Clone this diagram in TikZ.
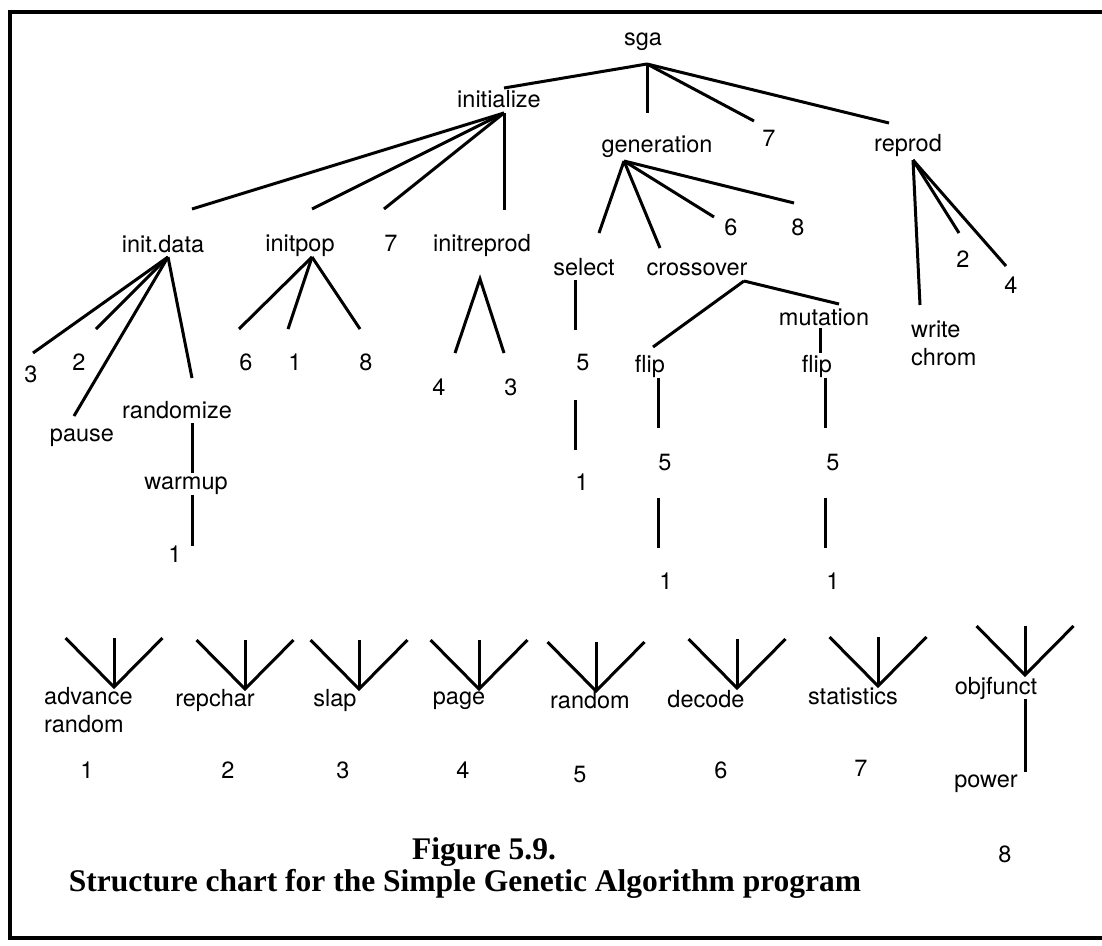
\documentclass[tikz,border=0pt]{standalone}
\usepackage{fontspec}
\setmainfont{TeX Gyre Heros}
\newfontfamily\figcapfont{Liberation Serif}
\newcommand\chartfont{\fontsize{23.5}{28.5}\selectfont}
\begin{document}
\begin{tikzpicture}[x=1pt,y=-1pt,
  lbl/.style={inner sep=0pt, anchor=base, font=\chartfont},
  lblw/.style={lbl, anchor=base west},
  link/.style={line width=3pt},
  frame/.style={line width=4.5pt},
  capt/.style={inner sep=0pt, anchor=base, font=\figcapfont\bfseries\fontsize{31.5}{36}\selectfont}]
\useasboundingbox (0,0) rectangle (1102,945);

% outer frame (right side runs off the page)
\draw[frame] (1102,12) -- (10,12) -- (10,938) -- (1102,938);

% ---------- module names ----------
\node[lbl] (sga) at (643,45) {sga};
\node[lbl] (initialize) at (499,107) {initialize};
\node[lbl] (generation) at (657,152) {generation};
\node[lbl] (sga7) at (769,146) {7};
\node[lbl] (reprod) at (908,151) {reprod};

\node[lbl] (initdata) at (163,252) {init.data};
\node[lbl] (initpop) at (300,251) {initpop};
\node[lbl] (init7) at (391,251) {7};
\node[lbl] (initreprod) at (482,251) {initreprod};

\node[lbl] (id3) at (31,382) {3};
\node[lbl] (id2) at (79,370) {2};
\node[lbl] (pause) at (82,441) {pause};
\node[lbl] (randomize) at (177,418) {randomize};
\node[lbl] (warmup) at (186,489) {warmup};
\node[lbl] (wu1) at (175,562) {1};

\node[lbl] (ip6) at (246,370) {6};
\node[lbl] (ip1) at (295,370) {1};
\node[lbl] (ip8) at (366,370) {8};
\node[lbl] (ir4) at (439,395) {4};
\node[lbl] (ir3) at (511,395) {3};

\node[lbl] (select) at (584,275) {select};
\node[lbl] (crossover) at (697,275) {crossover};
\node[lbl] (g6) at (731,235) {6};
\node[lbl] (g8) at (798,235) {8};
\node[lbl] (sel5) at (583,370) {5};
\node[lbl] (sel1) at (582,490) {1};

\node[lbl] (mutation) at (824,325) {mutation};
\node[lbl] (flipA) at (650,372) {flip};
\node[lbl] (flipB) at (817,372) {flip};
\node[lbl] (flipA5) at (665,470) {5};
\node[lbl] (flipB5) at (833,470) {5};
\node[lbl] (flipA1) at (666,589) {1};
\node[lbl] (flipB1) at (833,589) {1};

\node[lbl] (rp2) at (963,267) {2};
\node[lbl] (rp4) at (1011,293) {4};
\node[lblw] (writechrom) at (911,337) {\begin{tabular}[t]{@{}l@{}}write\\chrom\end{tabular}};

% ---------- tree connectors ----------
\coordinate (sga-j) at (647,64);
\coordinate (initialize-t) at (504,88);
\coordinate (generation-t) at (647,113);
\coordinate (sga7-t) at (754,121);
\coordinate (reprod-t) at (889,123);
\draw[link] (sga-j) -- (initialize-t);
\draw[link] (sga-j) -- (generation-t);
\draw[link] (sga-j) -- (sga7-t);
\draw[link] (sga-j) -- (reprod-t);

\coordinate (initialize-j) at (504,113);
\coordinate (initdata-t) at (192,209);
\coordinate (initpop-t) at (312,209);
\coordinate (init7-t) at (384,209);
\coordinate (initreprod-t) at (504,210);
\draw[link] (initialize-j) -- (initdata-t);
\draw[link] (initialize-j) -- (initpop-t);
\draw[link] (initialize-j) -- (init7-t);
\draw[link] (initialize-j) -- (initreprod-t);

\coordinate (initdata-j) at (168,257);
\coordinate (id3-t) at (33,353);
\coordinate (id2-t) at (96,329);
\coordinate (pause-t) at (74,416);
\coordinate (randomize-t) at (192,378);
\draw[link] (initdata-j) -- (id3-t);
\draw[link] (initdata-j) -- (id2-t);
\draw[link] (initdata-j) -- (pause-t);
\draw[link] (initdata-j) -- (randomize-t);

\coordinate (randomize-b) at (192,423);
\coordinate (warmup-t) at (192,473);
\coordinate (warmup-b) at (192,495);
\coordinate (wu1-t) at (192,546);
\draw[link] (randomize-b) -- (warmup-t);
\draw[link] (warmup-b) -- (wu1-t);

\coordinate (initpop-j) at (312,257);
\coordinate (ip6-t) at (239,329);
\coordinate (ip1-t) at (288,329);
\coordinate (ip8-t) at (360,329);
\draw[link] (initpop-j) -- (ip6-t);
\draw[link] (initpop-j) -- (ip1-t);
\draw[link] (initpop-j) -- (ip8-t);

\coordinate (initreprod-j) at (480,279);
\coordinate (ir4-t) at (455,353);
\coordinate (ir3-t) at (504,353);
\draw[link] (ir4-t) -- (initreprod-j) -- (ir3-t);

\coordinate (generation-j) at (624,161);
\coordinate (select-t) at (599,233);
\coordinate (crossover-t) at (660,248);
\coordinate (g6-t) at (714,217);
\coordinate (g8-t) at (794,203);
\draw[link] (generation-j) -- (select-t);
\draw[link] (generation-j) -- (crossover-t);
\draw[link] (generation-j) -- (g6-t);
\draw[link] (generation-j) -- (g8-t);

\coordinate (select-b) at (575,280);
\coordinate (sel5-t) at (575,330);
\coordinate (sel5-b) at (575,400);
\coordinate (sel1-t) at (575,450);
\draw[link] (select-b) -- (sel5-t);
\draw[link] (sel5-b) -- (sel1-t);

\coordinate (crossover-j) at (744,281);
\coordinate (flipA-t) at (653,347);
\coordinate (mutation-t) at (839,304);
\draw[link] (crossover-j) -- (flipA-t);
\draw[link] (crossover-j) -- (mutation-t);

\coordinate (mutation-b) at (820,328);
\coordinate (flipB-t) at (820,353);
\draw[link] (mutation-b) -- (flipB-t);

\coordinate (flipA-b) at (658,378);
\coordinate (flipA5-t) at (658,428);
\coordinate (flipA5-b) at (658,498);
\coordinate (flipA1-t) at (658,548);
\draw[link] (flipA-b) -- (flipA5-t);
\draw[link] (flipA5-b) -- (flipA1-t);

\coordinate (flipB-b) at (825,378);
\coordinate (flipB5-t) at (825,428);
\coordinate (flipB5-b) at (825,498);
\coordinate (flipB1-t) at (825,548);
\draw[link] (flipB-b) -- (flipB5-t);
\draw[link] (flipB5-b) -- (flipB1-t);

\coordinate (reprod-j) at (913,160);
\coordinate (writechrom-t) at (920,305);
\coordinate (rp2-t) at (959,233);
\coordinate (rp4-t) at (1006,266);
\draw[link] (reprod-j) -- (writechrom-t);
\draw[link] (reprod-j) -- (rp2-t);
\draw[link] (reprod-j) -- (rp4-t);

% ---------- library modules (three-pronged forks) ----------
\foreach \k/\cx/\ay in {1/114/687, 2/245/689, 3/359/689, 4/479/689,
                        5/596/691, 6/737/688, 7/878/686, 8/1025/675} {
  \coordinate (fk\k) at (\cx,\ay);
  \coordinate (fk\k-l) at (\cx-48.5,\ay-49);
  \coordinate (fk\k-m) at (\cx,\ay-49);
  \coordinate (fk\k-r) at (\cx+48.5,\ay-49);
  \draw[link] (fk\k-l) -- (fk\k) -- (fk\k-r);
  \draw[link] (fk\k-m) -- (fk\k);
}

\node[lblw] (advrandom) at (44,704) {\begin{tabular}[t]{@{}l@{}}advance\\random\end{tabular}};
\node[lbl] (repchar) at (215,706) {repchar};
\node[lbl] (slap) at (335,706) {slap};
\node[lbl] (page) at (459,704) {page};
\node[lbl] (random) at (590,708) {random};
\node[lbl] (decode) at (706,707) {decode};
\node[lbl] (statistics) at (853,704) {statistics};
\node[lbl] (objfunct) at (996,694) {objfunct};
\node[lbl] (power) at (986,787) {power};

\coordinate (objfunct-b) at (1025,699);
\coordinate (power-t) at (1025,772);
\draw[link] (objfunct-b) -- (power-t);

\node[lbl] (n1) at (87,778) {1};
\node[lbl] (n2) at (228,778) {2};
\node[lbl] (n3) at (343,778) {3};
\node[lbl] (n4) at (463,778) {4};
\node[lbl] (n5) at (580,782) {5};
\node[lbl] (n6) at (721,778) {6};
\node[lbl] (n7) at (861,776) {7};
\node[lbl] (n8) at (1005,862) {8};

% ---------- caption ----------
\node[capt] (figno) at (484,859) {Figure 5.9.};
\node[capt] (figtitle) at (465,891) {Structure chart for the Simple Genetic Algorithm program};
\end{tikzpicture}
\end{document}
